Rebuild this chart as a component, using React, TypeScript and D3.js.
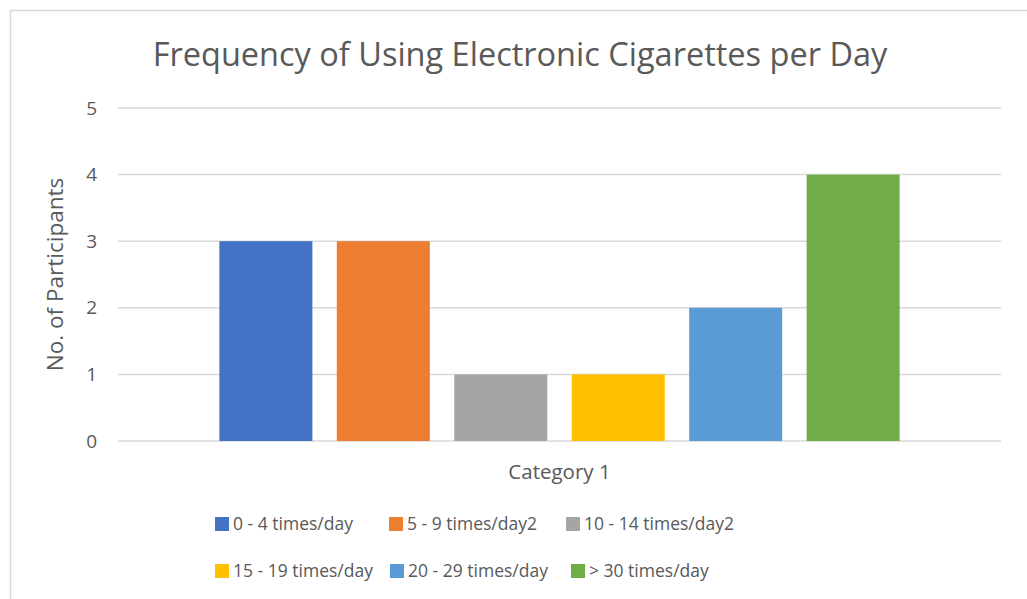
import React from "react";
import * as d3 from "d3";

// Chart data
const categories = ["Category 1"];
const seriesNames = [
  "0 - 4 times/day",
  "5 - 9 times/day2",
  "10 - 14 times/day2",
  "15 - 19 times/day",
  "20 - 29 times/day",
  "> 30 times/day",
];
const seriesValues = [3, 3, 1, 1, 2, 4];
const seriesColors = ["#4472C4", "#ED7D31", "#A5A5A5", "#FFC000", "#5B9BD5", "#70AD47"];
const yTicks = [0, 1, 2, 3, 4, 5];

const W = 1027;
const H = 599;
const plot = { left: 118, right: 1001, top: 108, bottom: 441 };
const FONT = "'Open Sans', sans-serif";
const TEXT = "#595959";

// Legend layout: two rows of three entries
const legendRows = [
  { y: 524, xs: [215, 389, 566] },
  { y: 571, xs: [215, 390, 571] },
];

export default function App() {
  const y = d3.scaleLinear().domain([0, 5]).range([plot.bottom, plot.top]);
  const x0 = d3
    .scaleBand<string>()
    .domain(categories)
    .range([plot.left, plot.right])
    .paddingOuter(0.149);
  const x1 = d3
    .scaleBand<string>()
    .domain(seriesNames)
    .range([0, x0.bandwidth()])
    .paddingInner(0.208);

  return (
    <svg
      width={W}
      height={H}
      style={{ position: "fixed", left: 0, top: 0, background: "#fff" }}
      fontFamily={FONT}
    >
      <rect x={10.5} y={10.5} width={W + 20} height={H + 20} fill="#fff" stroke="#d9d9d9" strokeWidth={1.5} />
      <text x={520} y={66} textAnchor="middle" fontSize={32.5} fill={TEXT}>
        Frequency of Using Electronic Cigarettes per Day
      </text>

      {yTicks.map((t) => (
        <g key={t}>
          <line x1={plot.left} x2={plot.right} y1={y(t)} y2={y(t)} stroke="#d9d9d9" strokeWidth={1.5} />
          <text x={97} y={y(t)} dy="0.35em" textAnchor="end" fontSize={19} fill={TEXT}>
            {t}
          </text>
        </g>
      ))}

      {categories.map((c) => (
        <g key={c} transform={`translate(${x0(c)},0)`}>
          {seriesNames.map((s, i) => (
            <rect
              key={s}
              x={x1(s)}
              y={y(seriesValues[i])}
              width={x1.bandwidth()}
              height={y(0) - y(seriesValues[i])}
              fill={seriesColors[i]}
            />
          ))}
          <text x={x0.bandwidth() / 2} y={472} dy="0.35em" textAnchor="middle" fontSize={20.5} fill={TEXT}>
            {c}
          </text>
        </g>
      ))}

      <text
        transform={`translate(55,${(plot.top + plot.bottom) / 2}) rotate(-90)`}
        textAnchor="middle"
        dy="0.35em"
        fontSize={22.5}
        fill={TEXT}
      >
        No. of Participants
      </text>

      {seriesNames.map((s, i) => {
        const row = legendRows[Math.floor(i / 3)];
        const lx = row.xs[i % 3];
        return (
          <g key={s} transform={`translate(${lx},${row.y})`}>
            <rect x={0} y={-7} width={14} height={14} fill={seriesColors[i]} />
            <text x={18} y={0} dy="0.35em" fontSize={17.5} fill={TEXT}>
              {s}
            </text>
          </g>
        );
      })}
    </svg>
  );
}
